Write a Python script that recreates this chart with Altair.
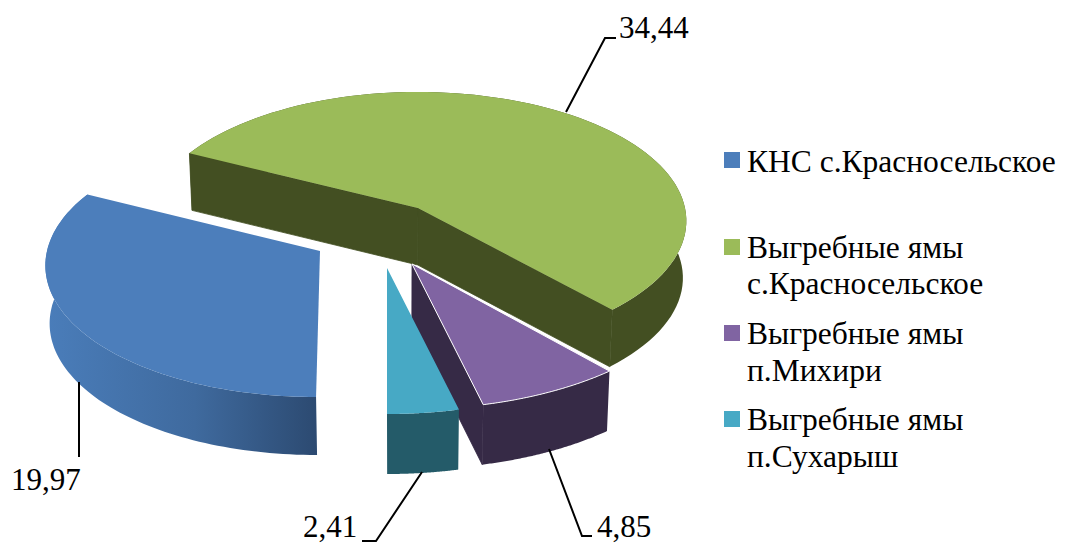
import numpy as np
import pandas as pd
import altair as alt

# ---- data ----
categories = ["КНС с.Красносельское", "Выгребные ямы с.Красносельское",
              "Выгребные ямы п.Михири", "Выгребные ямы п.Сухарыш"]
values = [19.97, 34.44, 4.85, 2.41]
legend_lines = [["КНС с.Красносельское"],
                ["Выгребные ямы", "с.Красносельское"],
                ["Выгребные ямы", "п.Михири"],
                ["Выгребные ямы", "п.Сухарыш"]]

# ---- layout (page pixels) ----
W, H = 1049, 536
FONT = "Liberation Serif"
FIRST_ANGLE = 180.0  # clockwise from the back of the pie
VIEW_X = 400         # the lower rim of the pie shrinks slightly towards this x
RIM_SHRINK = 0.012
geom = [  # apex x, y, radii, perspective, shear, depth
    dict(cx=320, cy=251, rx=273, ry=132, p=0.096, shear=-0.027, depth=58),
    dict(cx=418, cy=208, rx=267, ry=127.6, p=0.10, shear=0.0, depth=57),
    dict(cx=412, cy=264, rx=293, ry=145, p=0.0, shear=0.0, depth=60),
    dict(cx=387, cy=268, rx=296, ry=146, p=0.0, shear=0.0, depth=60),
]
top_fill = ["#4c7ebb", "#9bbb59", "#8064a2", "#47a9c5"]
wall_fill = [
    alt.Gradient(gradient="linear", x1=0, x2=1, y1=0, y2=0,
                 stops=[alt.GradientStop(color="#4a7dba", offset=0),
                        alt.GradientStop(color="#3f6a9e", offset=0.55),
                        alt.GradientStop(color="#2c4a71", offset=1)]),
    "#434f22", "#362a46", "#245b69",
]
wall_line = ["transparent", "#434f22", "#362a46", "#245b69"]
label_pos = [(11, 490), (619, 38), (597, 537), (303, 537)]
leaders = [[(79, 382), (79, 457)],
           [(566, 112), (605, 38), (616, 38)],
           [(549, 449), (582, 536), (592, 536)],
           [(422, 472), (376, 541), (362, 541)]]
legend_sq = [(732, 160), (732, 247), (732, 333), (732, 419)]
legend_base = [[172], [258, 294], [344, 381], [430, 467]]
legend_x = 747

x_enc = alt.X("x:Q", scale=alt.Scale(domain=[8, 8 + W], range=[0, W]), axis=None)
y_enc = alt.Y("y:Q", scale=alt.Scale(domain=[8, 8 + H], range=[0, H]), axis=None)


def project(g, theta):
    t = np.radians(theta)
    u, v = np.sin(t), -np.cos(t)
    s = 1 / (1 - g["p"] * v)
    return (g["cx"] + g["rx"] * u * s + g["shear"] * g["ry"] * v * s,
            g["cy"] + g["ry"] * v * s)


def lower(x):
    x = np.asarray(x, dtype=float)
    return x - RIM_SHRINK * (x - VIEW_X)


def polygon(xs, ys, fill, stroke=None, sw=0):
    df = pd.DataFrame({"x": list(xs), "y": list(ys), "i": range(len(xs))})
    kw = dict(fill=fill, interpolate="linear-closed", strokeWidth=sw)
    kw["stroke"] = stroke if stroke else "transparent"
    return alt.Chart(df).mark_line(**kw).encode(x=x_enc, y=y_enc, order=alt.Order("i:Q"))


# slice angles come from the values
total = sum(values)
spans = [v / total * 360 for v in values]
starts = [FIRST_ANGLE + sum(spans[:k]) for k in range(len(values))]

walls, tops = {}, {}
for k, g in enumerate(geom):
    th = np.linspace(starts[k], starts[k] + spans[k], 90)
    ax, ay = project(g, th)
    d = g["depth"]
    bx = lower(ax)
    outer = polygon(list(ax) + list(bx[::-1]), list(ay) + list(ay[::-1] + d), wall_fill[k])
    inner = []
    for idx in (0, -1):
        inner.append(polygon([g["cx"], ax[idx], bx[idx], lower(g["cx"])],
                             [g["cy"], ay[idx], ay[idx] + d, g["cy"] + d],
                             wall_fill[k], stroke=wall_line[k], sw=0.8))
    top = polygon([g["cx"]] + list(ax), [g["cy"]] + list(ay), top_fill[k],
                  stroke="#ffffff" if k == 2 else None, sw=1 if k == 2 else 0)
    walls[k], tops[k] = (outer, inner), top

pie = []
g_outer, g_inner = walls[1]
pie += [g_outer] + g_inner + [tops[1]]
b_outer, _ = walls[0]
pie += [b_outer, tops[0]]
p_outer, p_inner = walls[2]
pie += [p_inner[1], p_outer, tops[2]]
t_outer, _ = walls[3]
pie += [t_outer, tops[3]]

lead = []
for k, pts in enumerate(leaders):
    df = pd.DataFrame({"x": [a for a, _ in pts], "y": [b for _, b in pts], "i": range(len(pts))})
    lead.append(alt.Chart(df).mark_line(color="#000000", strokeWidth=2)
                .encode(x=x_enc, y=y_enc, order=alt.Order("i:Q")))

labels_df = pd.DataFrame({
    "x": [p[0] for p in label_pos], "y": [p[1] for p in label_pos],
    "t": [f"{v:.2f}".replace(".", ",") for v in values]})
labels = alt.Chart(labels_df).mark_text(
    align="left", baseline="alphabetic", font=FONT, fontSize=31, color="#000000"
).encode(x=x_enc, y=y_enc, text="t:N")

sq_df = pd.DataFrame({"x": [p[0] for p in legend_sq], "y": [p[1] for p in legend_sq],
                      "c": categories})
squares = alt.Chart(sq_df).mark_point(shape="square", filled=True, size=256, opacity=1).encode(
    x=x_enc, y=y_enc,
    color=alt.Color("c:N", scale=alt.Scale(domain=categories, range=top_fill), legend=None))

rows = []
for lines, bases in zip(legend_lines, legend_base):
    for ln, b in zip(lines, bases):
        rows.append({"x": legend_x, "y": b, "t": ln})
legend_text = alt.Chart(pd.DataFrame(rows)).mark_text(
    align="left", baseline="alphabetic", font=FONT, fontSize=31.5, color="#000000"
).encode(x=x_enc, y=y_enc, text="t:N")

chart = alt.layer(*pie, *lead, labels, squares, legend_text).resolve_scale(color="independent").properties(
    width=W, height=H, autosize="none", padding=0, background="#ffffff"
).configure_view(stroke=None)

chart.save("out.html", embed_options={"renderer": "svg", "actions": False})
